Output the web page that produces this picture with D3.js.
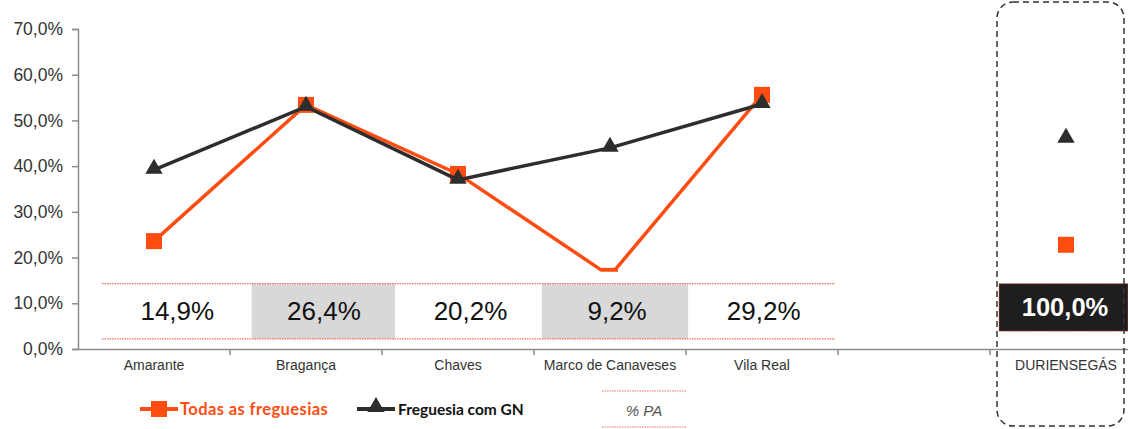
<!DOCTYPE html>
<html>
<head>
<meta charset="utf-8">
<script src="https://cdn.jsdelivr.net/npm/d3@7"></script>
<style>
  body { margin: 0; background: #fff; }
  svg { display: block; }
</style>
</head>
<body>
<div id="chart"></div>
<script>
// Data
const categories = ['Amarante', 'Bragança', 'Chaves', 'Marco de Canaveses', 'Vila Real', '', 'DURIENSEGÁS'];
const lineCategories = ['Amarante', 'Bragança', 'Chaves', 'Marco de Canaveses', 'Vila Real'];
const todasValues = [23.6, 53.4, 38.3, 16.0, 55.6];
const gnValues = [39.2, 53.0, 37.0, 44.0, 53.6];
const totalCategory = 'DURIENSEGÁS';
const totalTodas = 22.8;
const totalGn = 46.0;
const paValues = ['14,9%', '26,4%', '20,2%', '9,2%', '29,2%'];
const paTotal = '100,0%';
const yTicks = [0, 10, 20, 30, 40, 50, 60, 70];

const W = 1128, H = 429;
const MARGIN = { left: 78, top: 29, bottom: 80 };
const ORANGE = '#ff4d12';
const DARK = '#2d2d2d';
const FONT = '"Liberation Sans", Arial, sans-serif';

const svg = d3.select('#chart').append('svg')
    .attr('width', W)
    .attr('height', H)
    .style('font-family', FONT);

const x = d3.scaleBand()
    .domain(categories)
    .range([MARGIN.left, MARGIN.left + 152 * categories.length]);

const y = d3.scaleLinear()
    .domain([0, 70])
    .range([H - MARGIN.bottom, MARGIN.top]);

const cx = c => x(c) + x.bandwidth() / 2;

// Y axis
const yAxis = svg.append('g')
    .attr('transform', `translate(${MARGIN.left},0)`)
    .call(d3.axisLeft(y).tickValues(yTicks).tickSize(6).tickPadding(9)
        .tickFormat(d => d.toFixed(1).replace('.', ',') + '%'));
yAxis.select('.domain').attr('stroke', '#8c8c8c').attr('stroke-width', 1.5);
yAxis.selectAll('.tick line').attr('stroke', '#8c8c8c').attr('stroke-width', 1.5);
yAxis.selectAll('text')
    .attr('fill', '#333')
    .style('font-size', '17.5px')
    .style('font-family', FONT);

// X axis
const xAxis = svg.append('g')
    .attr('transform', `translate(0,${y(0)})`)
    .call(d3.axisBottom(x).tickSize(0).tickPadding(11));
xAxis.select('.domain').attr('stroke', '#8c8c8c').attr('stroke-width', 1.5);
xAxis.selectAll('text')
    .attr('fill', '#333')
    .style('font-size', '14px')
    .style('font-family', FONT);
// category boundary ticks
svg.append('g').selectAll('line')
    .data(categories)
    .enter().append('line')
    .attr('x1', d => x(d) + x.bandwidth())
    .attr('x2', d => x(d) + x.bandwidth())
    .attr('y1', y(0))
    .attr('y2', y(0) + 6)
    .attr('stroke', '#8c8c8c')
    .attr('stroke-width', 1.5);

// Lines
const line = d3.line()
    .x((d, i) => cx(lineCategories[i]))
    .y(d => y(d));

svg.append('path')
    .datum(todasValues)
    .attr('d', line)
    .attr('fill', 'none')
    .attr('stroke', ORANGE)
    .attr('stroke-width', 3.5);

svg.selectAll('.sq')
    .data(todasValues)
    .enter().append('rect')
    .attr('x', (d, i) => cx(lineCategories[i]) - 8)
    .attr('y', d => y(d) - 8)
    .attr('width', 16)
    .attr('height', 16)
    .attr('fill', ORANGE);

svg.append('path')
    .datum(gnValues)
    .attr('d', line)
    .attr('fill', 'none')
    .attr('stroke', DARK)
    .attr('stroke-width', 3.5);

const tri = d3.symbol().type(d3.symbolTriangle).size(130);
svg.selectAll('.tri')
    .data(gnValues)
    .enter().append('path')
    .attr('d', tri)
    .attr('transform', (d, i) => `translate(${cx(lineCategories[i])},${y(d) - 1})`)
    .attr('fill', DARK);

// Total points
svg.append('rect')
    .attr('x', cx(totalCategory) - 8)
    .attr('y', y(totalTodas) - 8)
    .attr('width', 16)
    .attr('height', 16)
    .attr('fill', ORANGE);
svg.append('path')
    .attr('d', tri)
    .attr('transform', `translate(${cx(totalCategory)},${y(totalGn) - 1})`)
    .attr('fill', DARK);

// % PA table overlay (white panel hides what lies under it)
const tx = d3.scaleBand()
    .domain(lineCategories)
    .range([102, 835]);
const tableTop = y(14.3), tableBot = y(2.2);
svg.append('rect')
    .attr('x', 96)
    .attr('y', y(16.9))
    .attr('width', 745)
    .attr('height', y(0.5) - y(16.9))
    .attr('fill', '#fff');

const cells = svg.append('g').selectAll('g')
    .data(paValues)
    .enter().append('g');

cells.append('rect')
    .attr('x', (d, i) => tx(lineCategories[i]) + (i === 1 ? 3 : 0))
    .attr('y', tableTop)
    .attr('width', (d, i) => tx.bandwidth() - (i === 1 ? 3 : 0))
    .attr('height', tableBot - tableTop)
    .attr('fill', (d, i) => i % 2 === 1 ? '#d8d8d8' : '#fff');

cells.append('text')
    .attr('x', (d, i) => tx(lineCategories[i]) + tx.bandwidth() / 2 + 2)
    .attr('y', (tableTop + tableBot) / 2 + 9)
    .attr('text-anchor', 'middle')
    .style('font-size', '26px')
    .attr('fill', '#111')
    .text(d => d);

[tableTop, tableBot].forEach(ty => {
    svg.append('line')
        .attr('x1', tx.range()[0])
        .attr('x2', tx.range()[1])
        .attr('y1', ty)
        .attr('y2', ty)
        .attr('stroke', '#f07060')
        .attr('stroke-width', 1.2)
        .attr('stroke-dasharray', '1.5,1');
});

// Total cell
const totTop = y(14.3), totBot = y(3.9);
svg.append('rect')
    .attr('x', x(totalCategory) + 9)
    .attr('y', totTop)
    .attr('width', W - x(totalCategory) - 9)
    .attr('height', totBot - totTop)
    .attr('fill', '#1e1e1e')
    .attr('stroke', '#e06050')
    .attr('stroke-width', 0.8)
    .attr('stroke-dasharray', '1.5,1');
svg.append('text')
    .attr('x', cx(totalCategory) - 1)
    .attr('y', (totTop + totBot) / 2 + 9)
    .attr('text-anchor', 'middle')
    .attr('fill', '#fff')
    .style('font-size', '25.5px')
    .style('font-weight', 'bold')
    .text(paTotal);

// Dashed rounded frame
svg.append('rect')
    .attr('x', x(totalCategory) + 7)
    .attr('y', 2)
    .attr('width', 127)
    .attr('height', 424)
    .attr('rx', 16)
    .attr('fill', 'none')
    .attr('stroke', '#333')
    .attr('stroke-width', 1.5)
    .attr('stroke-dasharray', '6,4');

// Legend
const legend = svg.append('g').attr('transform', 'translate(140,409)');
legend.append('line').attr('x1', 0).attr('x2', 38).attr('stroke', ORANGE).attr('stroke-width', 4);
legend.append('rect').attr('x', 11).attr('y', -8).attr('width', 16).attr('height', 16).attr('fill', ORANGE);
legend.append('text')
    .attr('x', 40).attr('y', 5.5)
    .attr('fill', ORANGE)
    .style('font-family', 'Lato, sans-serif')
    .style('font-weight', 'bold')
    .style('font-size', '16.5px')
    .style('letter-spacing', '0.4px')
    .text('Todas as freguesias');

const legend2 = svg.append('g').attr('transform', 'translate(357,409)');
legend2.append('line').attr('x1', 0).attr('x2', 38).attr('stroke', DARK).attr('stroke-width', 4);
legend2.append('path').attr('d', tri).attr('transform', 'translate(19,-2)').attr('fill', DARK);
legend2.append('text')
    .attr('x', 41).attr('y', 5.5)
    .attr('fill', '#111')
    .style('font-family', 'Lato, sans-serif')
    .style('font-weight', 'bold')
    .style('font-size', '15.5px')
    .text('Freguesia com GN');

// % PA legend
const pa = svg.append('g');
[391, 427].forEach(ly => {
    pa.append('line')
        .attr('x1', 602).attr('x2', 687)
        .attr('y1', ly).attr('y2', ly)
        .attr('stroke', '#f07060')
        .attr('stroke-width', 1.2)
        .attr('stroke-dasharray', '1.5,1');
});
pa.append('text')
    .attr('x', 644).attr('y', 416)
    .attr('text-anchor', 'middle')
    .attr('fill', '#555')
    .style('font-style', 'italic')
    .style('font-size', '15px')
    .text('% PA');
</script>
</body>
</html>
